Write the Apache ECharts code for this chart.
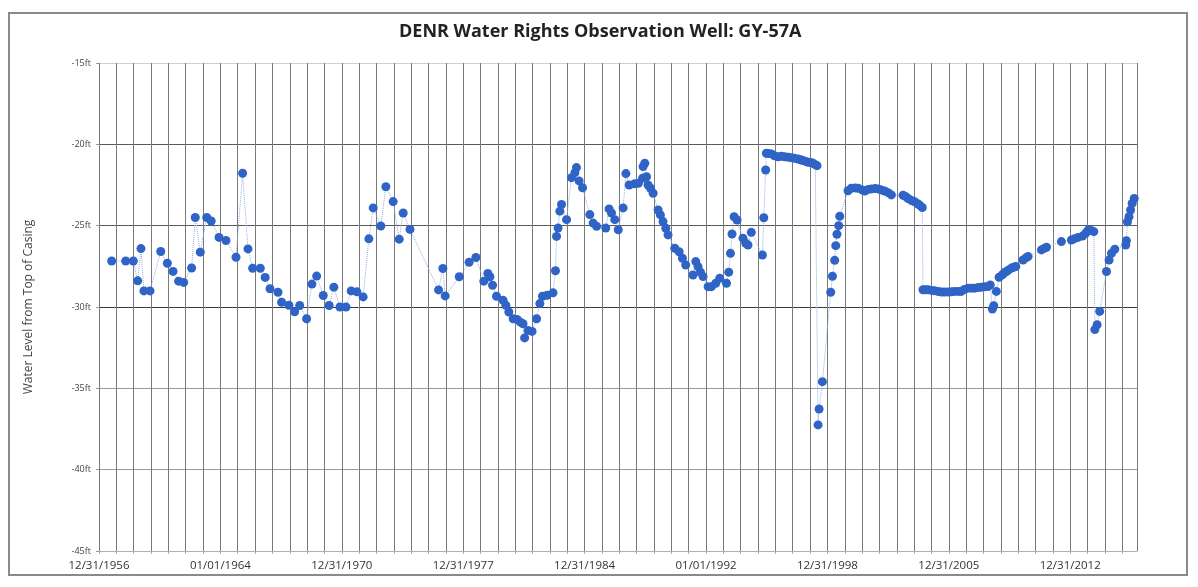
<!DOCTYPE html>
<html>
<head>
<meta charset="utf-8">
<script src="https://cdn.jsdelivr.net/npm/echarts@6/dist/echarts.min.js"></script>
<style>
html,body{margin:0;padding:0;background:#fff;}
#frame{position:absolute;left:8px;top:12px;width:1180px;height:564px;border:2px solid #8a8a8a;box-sizing:border-box;}
#chart{position:absolute;left:0;top:0;width:1198px;height:587px;}
</style>
</head>
<body>
<div id="frame"></div>
<div id="chart"></div>
<script>
// Observation dates (decimal years) and water level (ft, from top of casing)
const obsYears = [
 1957.73,1958.54,1958.98,1959.23,1959.42,1959.59,1959.94,1960.56,1960.94,1961.27,1961.59,1961.88,
 1962.34,1962.55,1962.84,1963.21,1963.47,1963.92,1964.32,1964.90,1965.28,1965.59,1965.86,1966.30,
 1966.58,1966.86,1967.32,1967.53,1967.95,1968.28,1968.57,1968.97,1969.28,1969.55,1969.93,1970.27,
 1970.54,1970.89,1971.24,1971.54,1971.87,1972.23,1972.56,1972.81,1973.25,1973.54,1973.96,1974.31,
 1974.54,1974.93,1976.58,1976.83,1976.96,1977.77,1978.34,1978.73,1979.19,1979.42,1979.54,1979.69,
 1979.92,1980.30,1980.46,1980.63,1980.88,1981.11,1981.30,1981.45,1981.54,1981.74,1981.97,1982.23,
 1982.42,1982.57,1982.84,1983.18,1983.32,1983.38,1983.47,1983.57,1983.67,1983.96,1984.24,1984.44,
 1984.53,1984.68,1984.88,1985.30,1985.49,1985.69,1986.22,1986.41,1986.55,1986.74,1986.94,1987.22,
 1987.38,1987.57,1987.89,1988.10,1988.34,1988.37,1988.47,1988.57,1988.66,1988.80,1988.95,1989.24,
 1989.37,1989.52,1989.68,1989.81,1990.20,1990.45,1990.64,1990.83,1991.25,1991.41,1991.54,1991.68,
 1991.83,1992.12,1992.31,1992.56,1992.79,1993.18,1993.31,1993.41,1993.50,1993.62,1993.79,1994.13,
 1994.29,1994.42,1994.61,1995.25,1995.33,1995.44,1995.48,1995.60,1995.77,1995.95,1996.15,1996.35,
 1996.54,1996.75,1996.92,1997.10,1997.31,1997.45,1997.59,1997.75,1997.88,1998.05,1998.17,1998.30,
 1998.40,1998.46,1998.52,1998.71,1999.19,1999.29,1999.42,1999.48,1999.55,1999.65,1999.71,2000.19,
 2000.38,2000.60,2000.77,2001.00,2001.15,2001.35,2001.54,2001.75,2001.92,2002.10,2002.30,2002.50,
 2002.69,2003.36,2003.50,2003.65,2003.85,2004.03,2004.20,2004.32,2004.47,2004.51,2004.65,2004.80,
 2005.00,2005.18,2005.40,2005.57,2005.75,2005.95,2006.15,2006.34,2006.55,2006.72,2006.90,2007.10,
 2007.30,2007.49,2007.70,2007.87,2008.05,2008.26,2008.39,2008.51,2008.59,2008.74,2008.90,2009.09,
 2009.20,2009.32,2009.45,2009.61,2009.75,2009.86,2010.28,2010.45,2010.57,2011.34,2011.50,2011.63,
 2012.49,2013.07,2013.25,2013.45,2013.71,2013.90,2014.03,2014.20,2014.36,2014.42,2014.55,2014.70,
 2015.09,2015.24,2015.38,2015.57,2016.20,2016.24,2016.30,2016.39,2016.48,2016.57,2016.69
];
const obsLevels = [
 -27.17,-27.17,-27.17,-28.39,-26.41,-29.01,-29.01,-26.59,-27.31,-27.81,-28.41,-28.49,
 -27.60,-24.50,-26.63,-24.50,-24.71,-25.72,-25.91,-26.94,-21.78,-26.43,-27.62,-27.62,
 -28.18,-28.88,-29.09,-29.71,-29.89,-30.29,-29.91,-30.72,-28.59,-28.10,-29.29,-29.91,
 -28.78,-30.00,-30.00,-29.01,-29.07,-29.38,-25.81,-23.91,-25.02,-22.61,-23.52,-25.83,
 -24.22,-25.23,-28.95,-27.63,-29.32,-28.14,-27.25,-26.96,-28.41,-27.94,-28.14,-28.66,
 -29.34,-29.59,-29.90,-30.31,-30.72,-30.77,-30.93,-31.03,-31.90,-31.45,-31.50,-30.72,
 -29.79,-29.34,-29.28,-29.13,-27.77,-25.66,-25.15,-24.11,-23.70,-24.63,-22.05,-21.74,
 -21.43,-22.25,-22.67,-24.32,-24.84,-25.04,-25.15,-23.97,-24.22,-24.63,-25.25,-23.91,
 -21.80,-22.50,-22.42,-22.40,-22.09,-21.37,-21.16,-21.99,-22.50,-22.70,-23.01,-24.04,
 -24.34,-24.75,-25.16,-25.57,-26.39,-26.60,-27.00,-27.42,-28.03,-27.21,-27.52,-27.86,
 -28.13,-28.75,-28.75,-28.54,-28.23,-28.54,-27.86,-26.70,-25.51,-24.45,-24.65,-25.77,
 -26.08,-26.19,-25.41,-26.80,-24.51,-21.58,-20.55,-20.57,-20.59,-20.70,-20.76,-20.74,
 -20.76,-20.80,-20.82,-20.86,-20.90,-20.95,-21.00,-21.05,-21.10,-21.12,-21.16,-21.25,
 -21.31,-37.25,-36.27,-34.59,-29.09,-28.11,-27.13,-26.23,-25.53,-25.00,-24.42,-22.85,
 -22.70,-22.68,-22.70,-22.80,-22.87,-22.77,-22.74,-22.72,-22.74,-22.80,-22.87,-22.97,
 -23.11,-23.13,-23.20,-23.33,-23.45,-23.53,-23.65,-23.74,-23.88,-28.94,-28.94,-28.94,
 -28.98,-29.00,-29.05,-29.08,-29.08,-29.08,-29.06,-29.04,-29.04,-29.04,-28.92,-28.84,
 -28.84,-28.84,-28.80,-28.78,-28.76,-28.74,-28.64,-30.13,-29.92,-29.04,-28.17,-28.02,
 -27.90,-27.82,-27.72,-27.61,-27.55,-27.51,-27.11,-26.98,-26.90,-26.49,-26.40,-26.33,
 -25.98,-25.88,-25.80,-25.72,-25.64,-25.45,-25.27,-25.30,-25.37,-31.39,-31.09,-30.27,
 -27.82,-27.11,-26.70,-26.45,-26.19,-25.92,-24.76,-24.45,-24.04,-23.63,-23.33
];
const tickYears  = [1957, 1964, 1971, 1978, 1985, 1992, 1999, 2006, 2013];
const tickLabels = ['12/31/1956','01/01/1964','12/31/1970','12/31/1977','12/31/1984','01/01/1992','12/31/1998','12/31/2005','12/31/2012'];

const chart = echarts.init(document.getElementById('chart'), null, {renderer: 'canvas'});
const seriesData = obsYears.map((y, i) => [y, obsLevels[i]]);

chart.setOption({
  animation: false,
  backgroundColor: 'transparent',
  title: {
    text: 'DENR Water Rights Observation Well: GY-57A',
    left: 394, top: 18,
    textStyle: {fontFamily: 'Open Sans', fontWeight: 'bold', fontSize: 18, color: '#222'}
  },
  grid: {left: 99, right: 61, top: 63, bottom: 36, containLabel: false},
  xAxis: {
    type: 'value', min: 1957, max: 2016.85, interval: 1,
    axisLine: {show: true, lineStyle: {color: '#b0b0b0', width: 1}},
    axisTick: {show: true, length: 3, lineStyle: {color: '#b0b0b0'}},
    splitLine: {show: true, lineStyle: {color: '#7a7a7a', width: 1}},
    axisLabel: {
      showMinLabel: true, showMaxLabel: false, margin: 9,
      fontFamily: 'Open Sans', fontSize: 11.5, color: '#333',
      formatter: function (v) {
        const k = tickYears.indexOf(Math.round(v));
        return (k >= 0 && Math.abs(v - Math.round(v)) < 1e-6) ? tickLabels[k] : '';
      }
    }
  },
  yAxis: {
    type: 'value', min: -45, max: -15, interval: 5,
    name: 'Water Level from Top of Casing',
    nameLocation: 'middle', nameGap: 64, nameRotate: 90,
    nameTextStyle: {fontFamily: 'Open Sans', fontSize: 12, color: '#444'},
    axisLine: {show: false},
    axisTick: {show: true, length: 3, lineStyle: {color: '#999'}},
    axisLabel: {fontFamily: 'Open Sans', fontSize: 9, color: '#444', margin: 8,
      formatter: function (v) { return v + 'ft'; }},
    splitLine: {show: true, lineStyle: {color: ['#b8b8b8', '#9a9a9a', '#9a9a9a', '#3a3a3a', '#5a5a5a', '#5a5a5a', '#d0d0d0'], width: 1}}
  },
  series: [{
    type: 'line',
    data: seriesData,
    showSymbol: true, symbol: 'circle', symbolSize: 9,
    itemStyle: {color: '#2f64c6'},
    lineStyle: {color: '#8eaee2', width: 1, type: 'dotted'},
    z: 5
  }]
});
</script>
</body>
</html>
